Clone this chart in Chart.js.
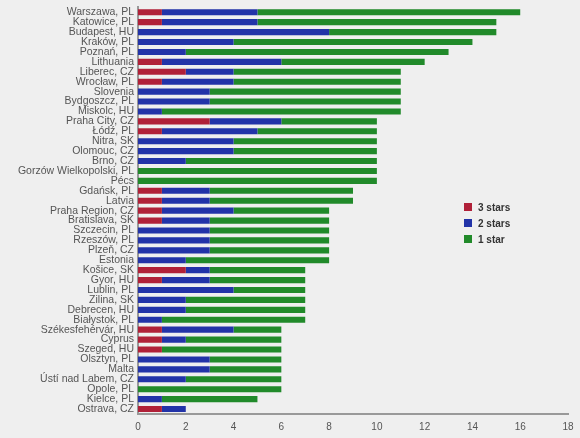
<!DOCTYPE html>
<html><head><meta charset="utf-8">
<script src="https://cdn.jsdelivr.net/npm/chart.js@4"></script>
<style>
body{margin:0;background:#efefef;}
#w{position:relative;width:580px;height:438px;}
#lg{position:absolute;left:464px;top:199px;font:bold 10px Arial,"Liberation Sans",sans-serif;color:#333;}
#lg div{height:16px;display:flex;align-items:center}
#lg span{display:inline-block;width:8px;height:8px;margin-right:6px}
</style></head><body>
<div id="w"><canvas id="c" width="580" height="438"></canvas>
<div id="lg"><div><span style="background:#b02038"></span>3 stars</div><div><span style="background:#2233a8"></span>2 stars</div><div><span style="background:#218a2a"></span>1 star</div></div></div>
<script>
const categories=["Warszawa, PL","Katowice, PL","Budapest, HU","Kraków, PL","Poznań, PL","Lithuania","Liberec, CZ","Wrocław, PL","Slovenia","Bydgoszcz, PL","Miskolc, HU","Praha City, CZ","Łódź, PL","Nitra, SK","Olomouc, CZ","Brno, CZ","Gorzów Wielkopolski, PL","Pécs","Gdańsk, PL","Latvia","Praha Region, CZ","Bratislava, SK","Szczecin, PL","Rzeszów, PL","Plzeň, CZ","Estonia","Košice, SK","Gyor, HU","Lublin, PL","Zilina, SK","Debrecen, HU","Białystok, PL","Székesfehérvár, HU","Cyprus","Szeged, HU","Olsztyn, PL","Malta","Ústí nad Labem, CZ","Opole, PL","Kielce, PL","Ostrava, CZ"];
const stars3=[1,1,0,0,0,1,2,1,0,0,0,3,1,0,0,0,0,0,1,1,1,1,0,0,0,0,2,1,0,0,0,0,1,1,1,0,0,0,0,0,1];
const stars2=[4,4,8,4,2,5,2,3,3,3,1,3,4,4,4,2,0,0,2,2,3,2,3,3,3,2,1,2,4,2,2,1,3,1,0,3,3,2,0,1,1];
const stars1=[11,10,7,10,11,6,7,7,8,8,10,4,5,6,6,8,10,10,6,6,4,5,5,5,5,6,4,4,3,5,5,6,2,4,5,3,3,4,6,4,0];
const xTicks=[0,2,4,6,8,10,12,14,16,18];
new Chart(document.getElementById('c'),{type:'bar',
data:{labels:categories,datasets:[
{label:'3 stars',data:stars3,backgroundColor:'#b02038'},
{label:'2 stars',data:stars2,backgroundColor:'#2233a8'},
{label:'1 star',data:stars1,backgroundColor:'#218a2a'}]},
options:{indexAxis:'y',responsive:false,animation:false,
layout:{padding:{top:6,right:12,bottom:2,left:0}},
plugins:{legend:{display:false},tooltip:{enabled:false}},
datasets:{bar:{categoryPercentage:0.65,barPercentage:0.95}},
scales:{
x:{stacked:true,min:0,max:18,afterBuildTicks:a=>{a.ticks=xTicks.map(v=>({value:v}));},
grid:{display:false,drawTicks:true,tickLength:4,color:'#999'},border:{color:'#999',width:2},
ticks:{color:'#555',font:{family:'Arial, Liberation Sans',size:10}}},
y:{stacked:true,grid:{display:false,tickLength:3},border:{color:'#999',width:2},
afterFit:s=>{s.width=138;},
ticks:{autoSkip:false,color:'#555',padding:1,font:{family:'Arial, Liberation Sans',size:10.5}}}
}}});
</script></body></html>
